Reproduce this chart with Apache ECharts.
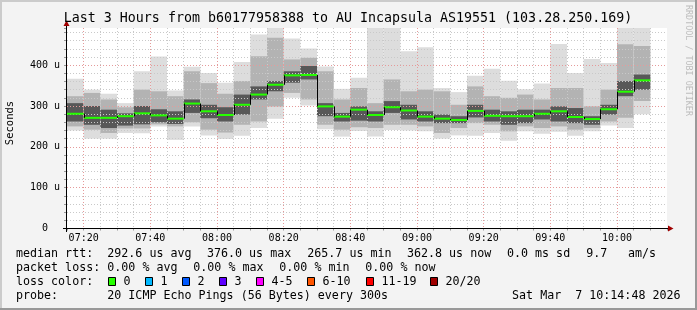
<!DOCTYPE html>
<html><head><meta charset="utf-8">
<script src="https://cdn.jsdelivr.net/npm/echarts@6/dist/echarts.min.js"></script>
<style>html,body{margin:0;padding:0;background:#f3f3f3;}#c{width:697px;height:310px;}</style>
</head><body><div id="c"></div>
<script>
// ---- data (microseconds) ----
const startTimes = ['07:15','07:20','07:25','07:30','07:35','07:40','07:45','07:50','07:55',
  '08:00','08:05','08:10','08:15','08:20','08:25','08:30','08:35','08:40','08:45','08:50','08:55',
  '09:00','09:05','09:10','09:15','09:20','09:25','09:30','09:35','09:40','09:45','09:50','09:55',
  '10:00','10:05'];
const medianRtt = [281,271,271,275,282,277,269,306,287,278,303,328,352,375,376,299,274,291,278,297,289,
  274,269,265.7,288,276,275,275,281,287,273,268,292,335,362.8];
const smokeMin = [240,220,220,234,233,250,217,250,228,219,227,246,269,320,301,243,225,239,225,241,240,
  238,220,228,227,234,215,238,232,237,227,238,252,246,280];
const smokeLo2 = [250,242,234,245,245,255,250,260,242,235,254,262,299,332,316,254,242,248,246,254,254,
  250,234,246,258,254,238,250,246,250,242,246,262,271,312];
const smokeLo3 = [262,254,246,252,255,260,256,283,270,262,279,316,336,357,365,275,262,264,262,283,267,
  262,258,258,272,262,254,258,267,262,258,254,279,324,340];
const smokeHi3 = [307,300,291,282,300,292,287,316,303,297,328,348,361,385,398,307,283,299,287,312,303,
  287,279,275,303,291,287,291,291,299,295,275,303,361,377];
const smokeHi2 = [324,332,316,297,340,336,324,385,356,330,361,422,467,414,418,385,316,344,307,365,336,
  340,336,303,348,324,320,328,316,344,344,299,340,451,447];
const smokeMax = [367,340,330,307,385,421,338,396,381,357,408,475,493,465,441,397,342,369,496,497,434,
  444,344,334,374,391,362,341,355,452,381,415,405,497,498];
const xTickLabels = ['07:20','07:40','08:00','08:20','08:40','09:00','09:20','09:40','10:00'];
const yTickLabels = ['0  ','100 u','200 u','300 u','400 u'];
const titleText = 'Last 3 Hours from b60177958388 to AU Incapsula AS19551 (103.28.250.169)';
const legendRtt = ['median rtt:','292.6 us avg','376.0 us max','265.7 us min','362.8 us now','0.0 ms sd','9.7','am/s'];
const legendLoss = ['packet loss:','0.00 % avg','0.00 % max','0.00 % min','0.00 % now'];
const lossLabels = ['0','1','2','3','4-5','6-10','11-19','20/20'];
const lossColors = ['#26ff00','#00b8ff','#0059ff','#5e00ff','#ff00ff','#ff5500','#ff0000','#a00000'];
const probeText = ['probe:','20 ICMP Echo Pings (56 Bytes) every 300s','Sat Mar  7 10:14:48 2026'];

// ---- helpers ----
function toMin(s){const p=s.split(':').map(Number);return p[0]*60+p[1];}
function fmt(m){const h=Math.floor(m/60),mm=m%60;return (h<10?'0':'')+h+':'+(mm<10?'0':'')+mm;}
const MONO = "'DejaVu Sans Mono', monospace";
const STEP = 5;
const xMin = toMin(startTimes[0]);
const xMax = xMin + 180;
const pts = startTimes.map((s,i)=>[toMin(s), medianRtt[i]]);

const GRIDC = '#c9c9c9', MGRIDC = '#e59a9a';

function txt(text,x,y,size){
  return {type:'text', x:x, y:y, z:50, silent:true,
    style:{text:text, font: size+'px '+MONO, fill:'#000', align:'left', verticalAlign:'middle'}};
}

const graphics = [];
// frame
graphics.push({type:'rect', shape:{x:0,y:0,width:697,height:2}, style:{fill:'#cbcbcb'}, z:60, silent:true});
graphics.push({type:'rect', shape:{x:0,y:0,width:2,height:310}, style:{fill:'#cbcbcb'}, z:60, silent:true});
graphics.push({type:'rect', shape:{x:695,y:0,width:2,height:310}, style:{fill:'#999999'}, z:60, silent:true});
graphics.push({type:'rect', shape:{x:0,y:308,width:697,height:2}, style:{fill:'#999999'}, z:60, silent:true});
// axes lines + arrows
graphics.push({type:'line', shape:{x1:63,y1:228.5,x2:668,y2:228.5}, style:{stroke:'#000',lineWidth:1}, z:40, silent:true});
graphics.push({type:'line', shape:{x1:66.5,y1:232,x2:66.5,y2:26}, style:{stroke:'#000',lineWidth:1}, z:40, silent:true});
graphics.push({type:'polygon', shape:{points:[[63.5,26],[69.5,26],[66.5,20.5]]}, style:{fill:'#a00000'}, z:41, silent:true});
graphics.push({type:'polygon', shape:{points:[[668,225.5],[668,231.5],[673.5,228.5]]}, style:{fill:'#a00000'}, z:41, silent:true});
// title
graphics.push({type:'text', x:348, y:19, z:50, silent:true, style:{text:titleText, font:'13.3px '+MONO, fill:'#000', align:'center', verticalAlign:'middle'}});
// side text
graphics.push({type:'text', x:688, y:5, rotation:-Math.PI/2, z:50, silent:true, style:{text:'RRDTOOL / TOBI OETIKER', font:'8.4px '+MONO, fill:'#bdbdbd', align:'left', verticalAlign:'middle'}});
// y name
graphics.push({type:'text', x:10.5, y:123, rotation:Math.PI/2, z:50, silent:true, style:{text:'Seconds', font:'10.5px '+MONO, fill:'#000', align:'center', verticalAlign:'middle'}});
// legend rows
const rttX = [16,107.3,207,307.3,407,507,586.3,628];
legendRtt.forEach((t,i)=>graphics.push(txt(t,rttX[i],254,11.66)));
const lossX = [16,107.3,193.3,279.3,365.3];
legendLoss.forEach((t,i)=>graphics.push(txt(t,lossX[i],268,11.66)));
graphics.push(txt('loss color:',16,281.7,11.66));
const swX = [108.5,145.5,182.5,219.5,256.5,307.5,366.5,430.5];
lossLabels.forEach((t,i)=>{
  graphics.push({type:'rect', shape:{x:swX[i],y:277.5,width:7,height:8}, style:{fill:lossColors[i],stroke:'#000',lineWidth:1}, z:50, silent:true});
  graphics.push(txt(t,swX[i]+15,281.7,11.66));
});
graphics.push(txt(probeText[0],16,296,11.66));
graphics.push(txt(probeText[1],107.3,296,11.66));
graphics.push({type:'text', x:680.5, y:296, z:50, silent:true, style:{text:probeText[2], font:'11.66px '+MONO, fill:'#000', align:'right', verticalAlign:'middle'}});

const chart = echarts.init(document.getElementById('c'));
chart.setOption({
  backgroundColor:'#f3f3f3',
  animation:false,
  grid:{left:67, top:28, width:600, height:200.5, show:true, backgroundColor:'#ffffff', borderWidth:0, containLabel:false},
  xAxis:{type:'value', min:xMin, max:xMax, interval:STEP, z:5,
    axisLine:{show:false},
    axisTick:{show:true, length:2, lineStyle:{color:'#999'}},
    axisLabel:{margin:5, fontFamily:MONO, fontSize:10, color:'#000',
      formatter:v=>{const l=fmt(v);return (v%20===0 && xTickLabels.indexOf(l)>=0)?l:'';}},
    splitLine:{show:true, showMinLine:false, showMaxLine:false, lineStyle:{color:[MGRIDC,GRIDC,GRIDC,GRIDC], type:[1,2], width:1}}
  },
  yAxis:{type:'value', min:0, max:491, interval:20, z:5,
    axisLine:{show:false},
    axisTick:{show:true, length:3, lineStyle:{color:'#999'}},
    axisLabel:{margin:7, fontFamily:MONO, fontSize:10, color:'#000',
      formatter:v=>(v%100===0 && v/100<yTickLabels.length)?yTickLabels[v/100]:''},
    splitLine:{show:true, showMinLine:false, showMaxLine:false, lineStyle:{color:[GRIDC,GRIDC,GRIDC,GRIDC,MGRIDC], type:[1,2], width:1}}
  },
  graphic: graphics,
  series:[
    {type:'custom', name:'smoke', z:2, data:pts, encode:{x:0,y:1},
     renderItem:function(params, api){
       const i = params.dataIndex; const t = toMin(startTimes[i]);
       const cs = params.coordSys;
       const x0 = api.coord([t,0])[0], x1 = api.coord([t+STEP,0])[0];
       const layers = [[smokeMin[i],smokeMax[i],'#dddddd'],[smokeLo2[i],smokeHi2[i],'#b3b3b3'],[smokeLo3[i],smokeHi3[i],'#585858']];
       return {type:'group', children: layers.map(L=>{
         let yT = Math.max(api.coord([t,L[1]])[1], cs.y);
         const yB = api.coord([t,L[0]])[1];
         return {type:'rect', shape:{x:x0,y:yT,width:x1-x0,height:yB-yT}, style:{fill:L[2]}};
       })};
     }},
    {type:'custom', name:'median', z:10, data:pts, encode:{x:0,y:1},
     renderItem:function(params, api){
       const i = params.dataIndex; const t = toMin(startTimes[i]);
       const x0 = api.coord([t,0])[0], x1 = api.coord([t+STEP,0])[0];
       const ym = api.coord([t,medianRtt[i]])[1];
       const ch = [{type:'rect', shape:{x:x0,y:ym-1,width:x1-x0,height:2}, style:{fill:'#26ff00'}}];
       if(i>0){
         const yp = api.coord([t,medianRtt[i-1]])[1];
         ch.push({type:'line', shape:{x1:Math.round(x0)+0.5,y1:yp,x2:Math.round(x0)+0.5,y2:ym}, style:{stroke:'#000',lineWidth:1}});
       }
       return {type:'group', children:ch};
     }}
  ]
});
</script></body></html>
